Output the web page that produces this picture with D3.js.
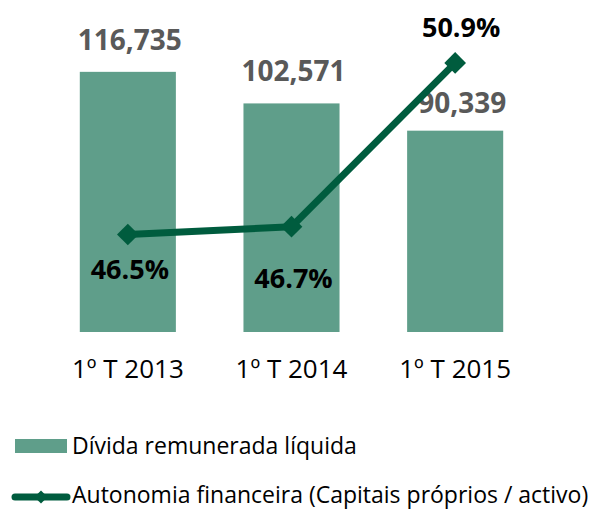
<!DOCTYPE html>
<html>
<head>
<meta charset="utf-8">
<script src="https://cdn.jsdelivr.net/npm/d3@7"></script>
<style>
  body { margin: 0; background: #fff; }
  svg text { font-family: "Open Sans", Lato, sans-serif; }
</style>
</head>
<body>
<div id="chart"></div>
<script>
// data
var periods = ["1º T 2013", "1º T 2014", "1º T 2015"];
var debt = [116735, 102571, 90339];          // Dívida remunerada líquida
var autonomy = [46.5, 46.7, 50.9];           // Autonomia financeira (%)
var debtLabel = "Dívida remunerada líquida";
var autonomyLabel = "Autonomia financeira (Capitais próprios / activo)";

var width = 607, height = 511;
var barColor = "#5f9e8a", lineColor = "#005c3e";

var svg = d3.select("#chart")
    .append("svg")
    .attr("width", width)
    .attr("height", height);

var x = d3.scaleBand()
    .domain(periods)
    .range([46, 537])
    .paddingInner(0.413)
    .paddingOuter(0.2065);

var y = d3.scaleLinear()
    .domain([0, 140000])
    .range([332, 20]);

var y2 = d3.scaleLinear()
    .domain([44, 52])
    .range([332, 20]);

var fmt = d3.format(",");
var cx = function(d, i) { return x(periods[i]) + x.bandwidth() / 2; };

// bars
svg.append("g").selectAll("rect")
    .data(debt)
    .enter().append("rect")
    .attr("x", function(d, i) { return x(periods[i]); })
    .attr("y", function(d) { return y(d); })
    .attr("width", x.bandwidth())
    .attr("height", function(d) { return y(0) - y(d); })
    .attr("fill", barColor);

// bar value labels
svg.append("g").selectAll("text")
    .data(debt)
    .enter().append("text")
    .attr("x", function(d, i) { return cx(d, i) + 2 + (i == 2 ? 5 : 0); })
    .attr("y", function(d, i) { return y(d) - (i == 2 ? 18 : 22); })
    .attr("text-anchor", "middle")
    .attr("font-size", 28)
    .attr("font-weight", "bold")
    .attr("fill", "#595959")
    .text(function(d) { return fmt(d); });

// line
var line = d3.line()
    .x(function(d, i) { return cx(d, i); })
    .y(function(d) { return y2(d); });

svg.append("path")
    .datum(autonomy)
    .attr("d", line)
    .attr("fill", "none")
    .attr("stroke", lineColor)
    .attr("stroke-width", 7)
    .attr("stroke-linejoin", "round");

var diamond = d3.symbol().type(d3.symbolDiamond2);

svg.append("g").selectAll("path")
    .data(autonomy)
    .enter().append("path")
    .attr("d", diamond.size(300))
    .attr("transform", function(d, i) { return "translate(" + cx(d, i) + "," + y2(d) + ")"; })
    .attr("fill", lineColor);

// line labels (first two below, last above)
var labelOffset = [44, 61, -26];
svg.append("g").selectAll("text")
    .data(autonomy)
    .enter().append("text")
    .attr("x", function(d, i) { return cx(d, i) + 2 + (i == 2 ? 4 : 0); })
    .attr("y", function(d, i) { return y2(d) + labelOffset[i]; })
    .attr("text-anchor", "middle")
    .attr("font-size", 27)
    .attr("font-weight", "bold")
    .attr("fill", "#000")
    .text(function(d) { return d.toFixed(1) + "%"; });

// x axis labels
svg.append("g")
    .attr("transform", "translate(0,332)")
    .call(d3.axisBottom(x).tickSize(0).tickPadding(46))
    .call(function(g) { g.select(".domain").remove(); })
    .selectAll("text")
    .attr("font-size", 26)
    .attr("fill", "#000")
    .attr("dy", 0);

// legend
var legend = svg.append("g");
legend.append("rect")
    .attr("x", 15).attr("y", 439)
    .attr("width", 52).attr("height", 14)
    .attr("fill", barColor);
legend.append("text")
    .attr("x", 72).attr("y", 454)
    .attr("font-size", 23)
    .attr("fill", "#000")
    .text(debtLabel);

legend.append("line")
    .attr("x1", 15).attr("x2", 67)
    .attr("y1", 497).attr("y2", 497)
    .attr("stroke", lineColor)
    .attr("stroke-width", 7)
    .attr("stroke-linecap", "round");
legend.append("path")
    .attr("d", diamond.size(110))
    .attr("transform", "translate(41,497)")
    .attr("fill", lineColor);
legend.append("text")
    .attr("x", 72).attr("y", 503)
    .attr("font-size", 23)
    .attr("fill", "#000")
    .text(autonomyLabel);
</script>
</body>
</html>
